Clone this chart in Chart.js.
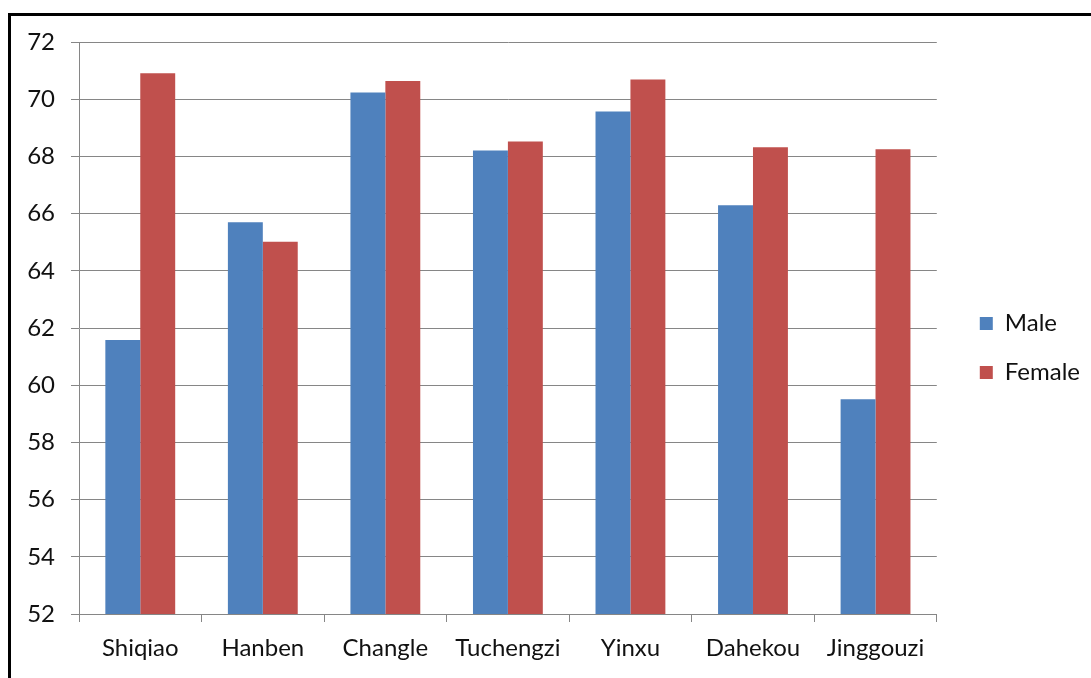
<!DOCTYPE html>
<html>
<head>
<meta charset="utf-8">
<script src="https://cdn.jsdelivr.net/npm/chart.js@4/dist/chart.umd.min.js"></script>
<style>
  html, body { margin: 0; padding: 0; background: #fff; }
  #wrap { position: relative; width: 1091px; height: 678px; overflow: hidden; }
  #frame {
    position: absolute; left: 8px; top: 13px; width: 1200px; height: 800px;
    border-top: 3px solid #000; border-left: 3px solid #000; pointer-events: none;
  }
  canvas { position: absolute; left: 0; top: 0; }
</style>
</head>
<body>
<div id="wrap">
  <canvas id="chart" width="1091" height="678"></canvas>
  <div id="frame"></div>
</div>
<script>
// ===== Data =====
const categories = ["Shiqiao", "Hanben", "Changle", "Tuchengzi", "Yinxu", "Dahekou", "Jinggouzi"];
const maleValues = [61.58, 65.70, 70.23, 68.21, 69.57, 66.29, 59.51];
const femaleValues = [70.91, 65.02, 70.64, 68.52, 70.69, 68.32, 68.25];
const yTicks = [52, 54, 56, 58, 60, 62, 64, 66, 68, 70, 72];

const GRID = "#868686";
const TEXT = "#111";
const FONT = { family: "Lato, 'Open Sans', sans-serif", size: 24 };

// nudge the legend box away from the plot, like the Excel original
const legendNudge = {
  id: "legendNudge",
  afterLayout(chart) {
    const lg = chart.legend;
    lg.left += 18; lg.right += 18;
    lg.top -= 12; lg.bottom -= 12;
  }
};

// ===== Chart =====
new Chart(document.getElementById("chart"), {
  type: "bar",
  data: {
    labels: categories,
    datasets: [
      { label: "Male", data: maleValues, backgroundColor: "#4F81BD" },
      { label: "Female", data: femaleValues, backgroundColor: "#C0504D" }
    ]
  },
  options: {
    responsive: false,
    animation: false,
    devicePixelRatio: 1,
    layout: { padding: { top: 42, left: 0, right: 19, bottom: 0 } },
    datasets: { bar: { categoryPercentage: 0.57, barPercentage: 1 } },
    plugins: {
      tooltip: { enabled: false },
      legend: {
        position: "right",
        labels: {
          boxWidth: 13, boxHeight: 13, padding: 25,
          color: TEXT, font: FONT
        }
      }
    },
    scales: {
      x: {
        grid: { drawOnChartArea: false, color: GRID, tickLength: 8 },
        border: { color: GRID, width: 1 },
        ticks: { color: TEXT, font: FONT, padding: 12, maxRotation: 0 },
        afterFit: s => { s.height = 64; }
      },
      y: {
        min: 52, max: 72,
        afterBuildTicks: s => { s.ticks = yTicks.map(v => ({ value: v })); },
        grid: { color: GRID, tickLength: 8 },
        border: { color: GRID, width: 1 },
        ticks: { color: TEXT, font: FONT, padding: 16 },
        afterFit: s => { s.width = 79; }
      }
    }
  },
  plugins: [legendNudge]
});
</script>
</body>
</html>
